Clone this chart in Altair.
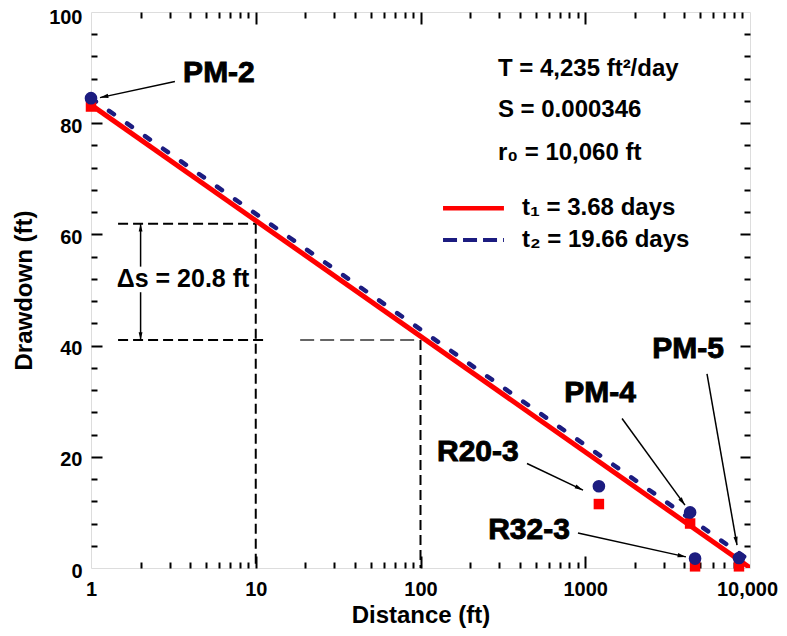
import altair as alt
import pandas as pd

FONT = "Liberation Sans"
RED = "#ff0000"
NAVY = "#1c1c80"

# ---------------- data ----------------
# theoretical distance-drawdown lines (straight on semi-log paper)
t1_dist = [1, 10060]
t1_draw = [83.3, 0.0]
t2_dist = [1, 10000]
t2_draw = [84.5, 1.3]

# observed drawdowns at wells
wells = ["PM-2", "R20-3", "PM-4", "R32-3", "PM-5"]
well_dist = [1, 1210, 4330, 4640, 8570]
obs_t1 = [83.0, 11.5, 8.0, 0.3, 0.3]
obs_t2 = [84.5, 14.7, 10.0, 1.7, 1.8]

# well label annotations (data coordinates)
lab_x = [5.98, 223, 1230, 456, 4205]
lab_y = [89.1, 20.8, 31.5, 6.8, 39.4]
arr_x1 = [3.23, 443, 1672, 903, 5483]
arr_y1 = [87.5, 18.8, 26.9, 6.3, 34.9]
arr_x2 = [1.134, 969, 4030, 4085, 8340]
arr_y2 = [84.6, 14.0, 11.3, 2.0, 4.1]
arr_angle = [258, 116, 144, 102, 170]

# delta-s construction lines
guide_x1 = [1.46, 1.46, 10, 100]
guide_x2 = [10, 11.7, 10, 100]
guide_y1 = [61.9, 41.0, 61.9, 41.0]
guide_y2 = [61.9, 41.0, 0, 0]
guide2_x1 = [18.6]
guide2_x2 = [100]
guide2_y = [41.0]

ds_x = 2.0
ds_top, ds_bot = 61.9, 41.0
ds_gap_top, ds_gap_bot = 54.2, 49.6
ds_text = "\u0394s = 20.8 ft"
ds_text_x, ds_text_y = 3.62, 52.0

# legend / info block
info_text = ["T = 4,235 ft\u00b2/day", "S = 0.000346", "r\u2080 = 10,060 ft"]
info_x = [295, 295, 295]
info_y = [89.8, 82.4, 74.6]
leg_text = ["t\u2081 = 3.68 days", "t\u2082 = 19.66 days"]
leg_text_x = [413, 413]
leg_y = [64.7, 59.0]
leg_line_x = [137, 321]

x_major = [10, 100, 1000]
x_minor = [m * d for d in [1, 10, 100, 1000] for m in range(2, 10)]
y_major = [20, 40, 60, 80]
y_minor = [v for v in range(4, 100, 4) if v % 20 != 0]

# ---------------- scales ----------------
xs = alt.Scale(type="log", domain=[1, 10000], nice=False)
ys = alt.Scale(domain=[0, 100], nice=False, zero=False)


def X(f):
    return alt.X(f, type="quantitative", scale=xs, axis=None)


def Y(f):
    return alt.Y(f, type="quantitative", scale=ys, axis=None)


# ---------------- content layers ----------------
guides = pd.DataFrame({"x1": guide_x1, "x2": guide_x2, "y1": guide_y1, "y2": guide_y2})
g1 = alt.Chart(guides).mark_rule(color="black", strokeWidth=2, strokeDash=[10, 5]).encode(
    x=X("x1"), x2="x2", y=Y("y1"), y2="y2")
guides2 = pd.DataFrame({"x1": guide2_x1, "x2": guide2_x2, "y": guide2_y})
g2 = alt.Chart(guides2).mark_rule(color="#333333", strokeWidth=1.5, strokeDash=[14, 6]).encode(
    x=X("x1"), x2="x2", y=Y("y"))

ds_df = pd.DataFrame({"x": [ds_x, ds_x], "y1": [ds_top, ds_gap_bot], "y2": [ds_gap_top, ds_bot]})
ds_rule = alt.Chart(ds_df).mark_rule(color="black", strokeWidth=1.5).encode(
    x=X("x"), y=Y("y1"), y2="y2")
head_shape = "M0,0L-0.5,2L0.5,2Z"
ds_heads = pd.DataFrame({"x": [ds_x, ds_x], "y": [ds_top, ds_bot], "a": [0, 180]})
ds_head = alt.Chart(ds_heads).mark_point(shape=head_shape, filled=True, color="black", size=60, opacity=1).encode(
    x=X("x"), y=Y("y"), angle=alt.Angle("a:Q", scale=None))
ds_lab = alt.Chart(pd.DataFrame({"x": [ds_text_x], "y": [ds_text_y], "t": [ds_text]})).mark_text(
    font=FONT, fontSize=25, fontWeight="bold", align="center", baseline="middle", color="black").encode(
    x=X("x"), y=Y("y"), text="t:N")

t1_line = alt.Chart(pd.DataFrame({"x": t1_dist, "y": t1_draw})).mark_line(
    color=RED, strokeWidth=5, clip=True).encode(x=X("x"), y=Y("y"))
t2_line = alt.Chart(pd.DataFrame({"x": t2_dist, "y": t2_draw})).mark_line(
    color=NAVY, strokeWidth=4.5, strokeDash=[6, 16], strokeCap="round").encode(x=X("x"), y=Y("y"))

obs = pd.DataFrame({"well": wells, "x": well_dist, "t1": obs_t1, "t2": obs_t2})
squares = alt.Chart(obs).mark_square(color=RED, size=110, opacity=1).encode(x=X("x"), y=Y("t1"))
circles = alt.Chart(obs).mark_circle(color=NAVY, size=160, opacity=1).encode(x=X("x"), y=Y("t2"))

ann = pd.DataFrame({"well": wells, "lx": lab_x, "ly": lab_y, "x1": arr_x1, "y1": arr_y1,
                    "x2": arr_x2, "y2": arr_y2, "a": arr_angle})
ann_rule = alt.Chart(ann).mark_rule(color="black", strokeWidth=1.5).encode(
    x=X("x1"), y=Y("y1"), x2="x2", y2="y2")
ann_head = alt.Chart(ann).mark_point(shape=head_shape, filled=True, color="black", size=70, opacity=1).encode(
    x=X("x2"), y=Y("y2"), angle=alt.Angle("a:Q", scale=None))
ann_text = alt.Chart(ann).mark_text(font=FONT, fontSize=30, fontWeight="bold", align="center",
                                    baseline="middle", color="black", stroke="black", strokeWidth=0.9).encode(
    x=X("lx"), y=Y("ly"), text="well:N")

info = pd.DataFrame({"t": info_text, "x": info_x, "y": info_y})
info_lab = alt.Chart(info).mark_text(font=FONT, fontSize=24, fontWeight="bold", align="left",
                                     baseline="middle", color="black").encode(x=X("x"), y=Y("y"), text="t:N")
leg = pd.DataFrame({"t": leg_text, "x": leg_text_x, "y": leg_y})
leg_lab = alt.Chart(leg).mark_text(font=FONT, fontSize=24, fontWeight="bold", align="left",
                                   baseline="middle", color="black").encode(x=X("x"), y=Y("y"), text="t:N")
leg_red = alt.Chart(pd.DataFrame({"x": leg_line_x, "y": [leg_y[0]] * 2})).mark_line(
    color=RED, strokeWidth=4.5).encode(x=X("x"), y=Y("y"))
leg_blue = alt.Chart(pd.DataFrame({"x": leg_line_x, "y": [leg_y[1]] * 2})).mark_line(
    color=NAVY, strokeWidth=4, strokeDash=[14, 6]).encode(x=X("x"), y=Y("y"))

# ---------------- axis layers ----------------
dummy = pd.DataFrame({"x": [1], "y": [0]})


def axis_layer(xaxis, yaxis):
    return alt.Chart(dummy).mark_point(opacity=0).encode(
        x=alt.X("x:Q", scale=xs, axis=xaxis), y=alt.Y("y:Q", scale=ys, axis=yaxis))


def tick_axis(orient, values, size):
    return alt.Axis(orient=orient, values=values, labels=False, ticks=True,
                    tickSize={"expr": str(-size)}, tickWidth=2, tickColor="black",
                    domain=False, grid=False, title=None)


label_layer = axis_layer(
    alt.Axis(orient="bottom", values=[1, 10, 100, 1000, 10000], ticks=False, domain=False, grid=False,
             labelExpr="datum.value >= 10000 ? '10,000' : format(datum.value, 'd')",
             labelOffset={"condition": {"test": "datum.value >= 10000", "value": -3}, "value": 0},
             labelFlush=False, labelPadding=11, labelFont=FONT, labelFontSize=20, labelFontWeight="bold",
             labelColor="black", title="Distance (ft)", titleFont=FONT, titleFontSize=24,
             titleFontWeight="bold", titleColor="black", titleBaseline="alphabetic", titleY=54),
    alt.Axis(orient="left", values=[0, 20, 40, 60, 80, 100], ticks=False, domain=False, grid=False,
             format="d", labelFlush=False, labelPadding=9,
             labelOffset={"condition": {"test": "datum.value >= 100", "value": 5}, "value": 3},
             labelFont=FONT, labelFontSize=20,
             labelFontWeight="bold", labelColor="black", title="Drawdown (ft)", titleFont=FONT,
             titleFontSize=24, titleFontWeight="bold", titleColor="black", titleAngle=270,
             titleBaseline="alphabetic", titleX=-60, titleY=278),
)
major_in = axis_layer(tick_axis("bottom", x_major, 12), tick_axis("left", y_major, 11))
minor_in = axis_layer(tick_axis("bottom", x_minor, 6), tick_axis("left", y_minor, 6))
major_out = axis_layer(tick_axis("top", x_major, 12), tick_axis("right", y_major, 10))
minor_out = axis_layer(tick_axis("top", x_minor, 6), tick_axis("right", y_minor, 6))

chart = alt.layer(
    label_layer, major_in, minor_in, major_out, minor_out,
    g1, g2, ds_rule, ds_head, ds_lab,
    t1_line, t2_line, squares, circles,
    ann_rule, ann_head, ann_text,
    info_lab, leg_lab, leg_red, leg_blue,
).resolve_axis(x="independent", y="independent").properties(
    width=659, height=556,
    autosize=alt.AutoSizeParams(type="none"),
    padding={"left": 83, "top": 4, "right": 29, "bottom": 60},
).configure_view(stroke="black", strokeWidth=3).configure(background="white")

chart.save("out.html", embed_options={"renderer": "svg", "actions": False})
